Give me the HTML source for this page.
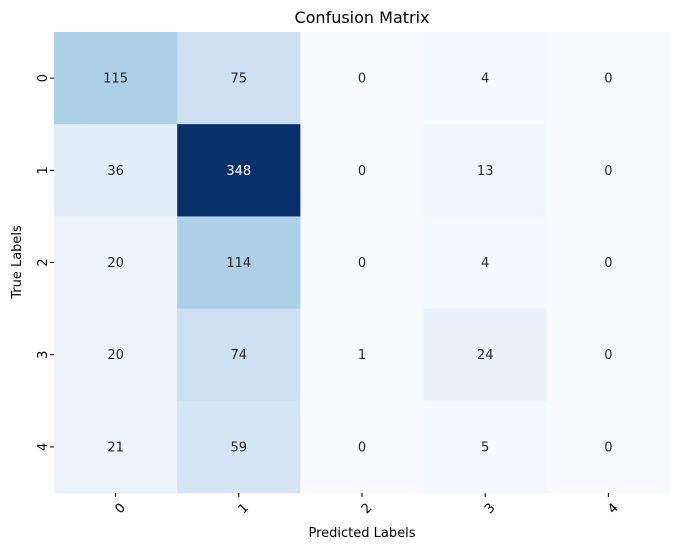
<!DOCTYPE html>
<html><head><meta charset="utf-8"><style>
body{margin:0;background:#fff;font-family:"Liberation Sans","DejaVu Sans",sans-serif;}
svg text{font-family:"DejaVu Sans","Liberation Sans",sans-serif;}
</style></head><body>
<svg id="chart" width="683" height="549" xmlns="http://www.w3.org/2000/svg">
<text x="362" y="23" text-anchor="middle" font-size="16" fill="#000">Confusion Matrix</text>
<g id="cells"></g>
<text x="362" y="537" text-anchor="middle" font-size="13">Predicted Labels</text>
<text transform="translate(21,262) rotate(-90)" text-anchor="middle" font-size="13">True Labels</text>
</svg>
<script>
const categories = ["0","1","2","3","4"];
const matrix = [
 [115,75,0,4,0],
 [36,348,0,13,0],
 [20,114,0,4,0],
 [20,74,1,24,0],
 [21,59,0,5,0]
];
const L=54,R=670,T=32,B=493;
const cw=(R-L)/categories.length, ch=(B-T)/categories.length;
const xPos=i=>L+i*cw, yPos=i=>T+i*ch;
const stops=[[0,[247,251,255]],[0.125,[222,235,247]],[0.25,[198,219,239]],[0.375,[158,202,225]],[0.5,[107,174,214]],[0.625,[66,146,198]],[0.75,[33,113,181]],[0.875,[8,81,156]],[1,[8,48,107]]];
function blues(t){for(let i=1;i<stops.length;i++){if(t<=stops[i][0]){const a=stops[i-1],b=stops[i];const f=(t-a[0])/(b[0]-a[0]);const c=a[1].map((v,k)=>Math.round(v+(b[1][k]-v)*f));return `rgb(${c})`;}}return 'rgb(8,48,107)';}
const vmax=Math.max(...matrix.flat()), vmin=Math.min(...matrix.flat());
const NS="http://www.w3.org/2000/svg", g=document.getElementById('cells'), svg=document.getElementById('chart');
matrix.forEach((row,r)=>row.forEach((v,c)=>{
 const t=(v-vmin)/(vmax-vmin);
 const rect=document.createElementNS(NS,'rect');
 rect.setAttribute('x',xPos(c));rect.setAttribute('y',yPos(r));
 rect.setAttribute('width',cw+0.5);rect.setAttribute('height',ch+0.5);
 rect.setAttribute('fill',blues(t));
 
 
 g.appendChild(rect);
 const tx=document.createElementNS(NS,'text');
 tx.setAttribute('x',xPos(c)+cw/2);tx.setAttribute('y',yPos(r)+ch/2+4.5);
 tx.setAttribute('text-anchor','middle');tx.setAttribute('font-size','13');
 tx.setAttribute('fill',t>0.6?'#fff':'#262626');
 tx.textContent=v;
 
 
 g.appendChild(tx);
}));
categories.forEach((lab,i)=>{
 const cx=xPos(i)+cw/2, cy=yPos(i)+ch/2;
 const tk=document.createElementNS(NS,'line');
 tk.setAttribute('x1',cx);tk.setAttribute('x2',cx);tk.setAttribute('y1',B);tk.setAttribute('y2',B+4);tk.setAttribute('stroke','#000');
 
 
 svg.appendChild(tk);
 const xt=document.createElementNS(NS,'text');
 xt.setAttribute('transform',`translate(${cx+4},${B+9}) rotate(-45)`);
 xt.setAttribute('text-anchor','end');xt.setAttribute('font-size','13');xt.setAttribute('dy','0.7em');
 xt.textContent=lab;
 
 
 svg.appendChild(xt);
 const yk=document.createElementNS(NS,'line');
 yk.setAttribute('x1',L-4);yk.setAttribute('x2',L);yk.setAttribute('y1',cy);yk.setAttribute('y2',cy);yk.setAttribute('stroke','#000');
 
 
 svg.appendChild(yk);
 const yt=document.createElementNS(NS,'text');
 yt.setAttribute('transform',`translate(${L-7},${cy}) rotate(-90)`);
 yt.setAttribute('text-anchor','middle');yt.setAttribute('font-size','13');
 yt.textContent=lab;
 
 
 svg.appendChild(yt);
});
</script>
</body></html>
